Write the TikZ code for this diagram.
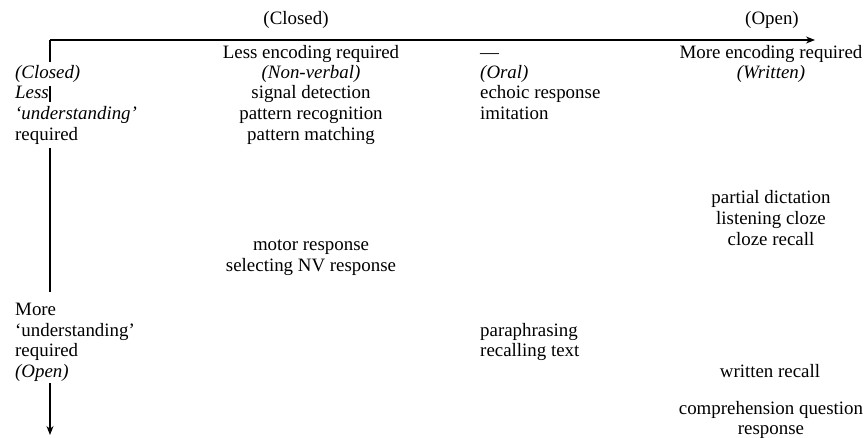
\documentclass[tikz,border=0pt]{standalone}
\usepackage{fontspec}
\setmainfont{Liberation Serif}
\usetikzlibrary{arrows.meta}
\newcommand{\fsz}{\fontsize{18.9}{20.8}\selectfont}
\begin{document}
\begin{tikzpicture}[x=1pt,y=-1pt,
  txt/.style={inner sep=0pt,font=\fsz,anchor=base},
  ltxt/.style={inner sep=0pt,font=\fsz,anchor=base west},
  axis/.style={line width=1.1pt},
  axarrow/.style={line width=1.1pt,-{Stealth[length=9pt,width=7pt]}}]
\useasboundingbox (0,0) rectangle (864,437);
% axes
\coordinate (o) at (50,40);
\coordinate (xend) at (815,40);
\coordinate (v1) at (50,62);
\coordinate (v2a) at (50,86);
\coordinate (v2b) at (50,102);
\coordinate (v3a) at (50,148);
\coordinate (v3b) at (50,292);
\coordinate (v4a) at (50,383);
\coordinate (yend) at (50,435);
\draw[axarrow] (o) -- (xend);
\draw[axis] (o) -- (v1);
\draw[axis] (v2a) -- (v2b);
\draw[axis] (v3a) -- (v3b);
\draw[axarrow] (v4a) -- (yend);
% top labels
\node[txt] (tclosed) at (296,24) {(Closed)};
\node[txt] (topen) at (772,24) {(Open)};
% left labels
\node[ltxt] (l1) at (15,78) {\itshape (Closed)};
\node[ltxt] (l2) at (15,98) {\itshape Less};
\node[ltxt] (l3) at (15,119) {\itshape `understanding'};
\node[ltxt] (l4) at (15,140) {required};
\node[ltxt] (l5) at (15,315) {More};
\node[ltxt] (l6) at (15,336) {`understanding'};
\node[ltxt] (l7) at (15,356) {required};
\node[ltxt] (l8) at (15,377) {\itshape (Open)};
% column 1
\node[txt] (c1a) at (311,58) {Less encoding required};
\node[txt] (c1b) at (311,78) {\itshape (Non-verbal)};
\node[txt] (c1c) at (311,98) {signal detection};
\node[txt] (c1d) at (311,119) {pattern recognition};
\node[txt] (c1e) at (311,140) {pattern matching};
\node[txt] (c1f) at (311,250) {motor response};
\node[txt] (c1g) at (311,271) {selecting NV response};
% column 2
\node[ltxt] (c2a) at (480,58) {---};
\node[ltxt] (c2b) at (480,78) {\itshape (Oral)};
\node[ltxt] (c2c) at (480,98) {echoic response};
\node[ltxt] (c2d) at (480,119) {imitation};
\node[ltxt] (c2e) at (480,336) {paraphrasing};
\node[ltxt] (c2f) at (480,356) {recalling text};
% column 3
\node[txt] (c3a) at (771,58) {More encoding required};
\node[txt] (c3b) at (771,78) {\itshape (Written)};
\node[txt] (c3c) at (771,203) {partial dictation};
\node[txt] (c3d) at (771,224) {listening cloze};
\node[txt] (c3e) at (771,245) {cloze recall};
\node[txt] (c3f) at (770,377) {written recall};
\node[txt] (c3g) at (771,414) {comprehension question};
\node[txt] (c3h) at (771,434) {response};
\end{tikzpicture}
\end{document}
